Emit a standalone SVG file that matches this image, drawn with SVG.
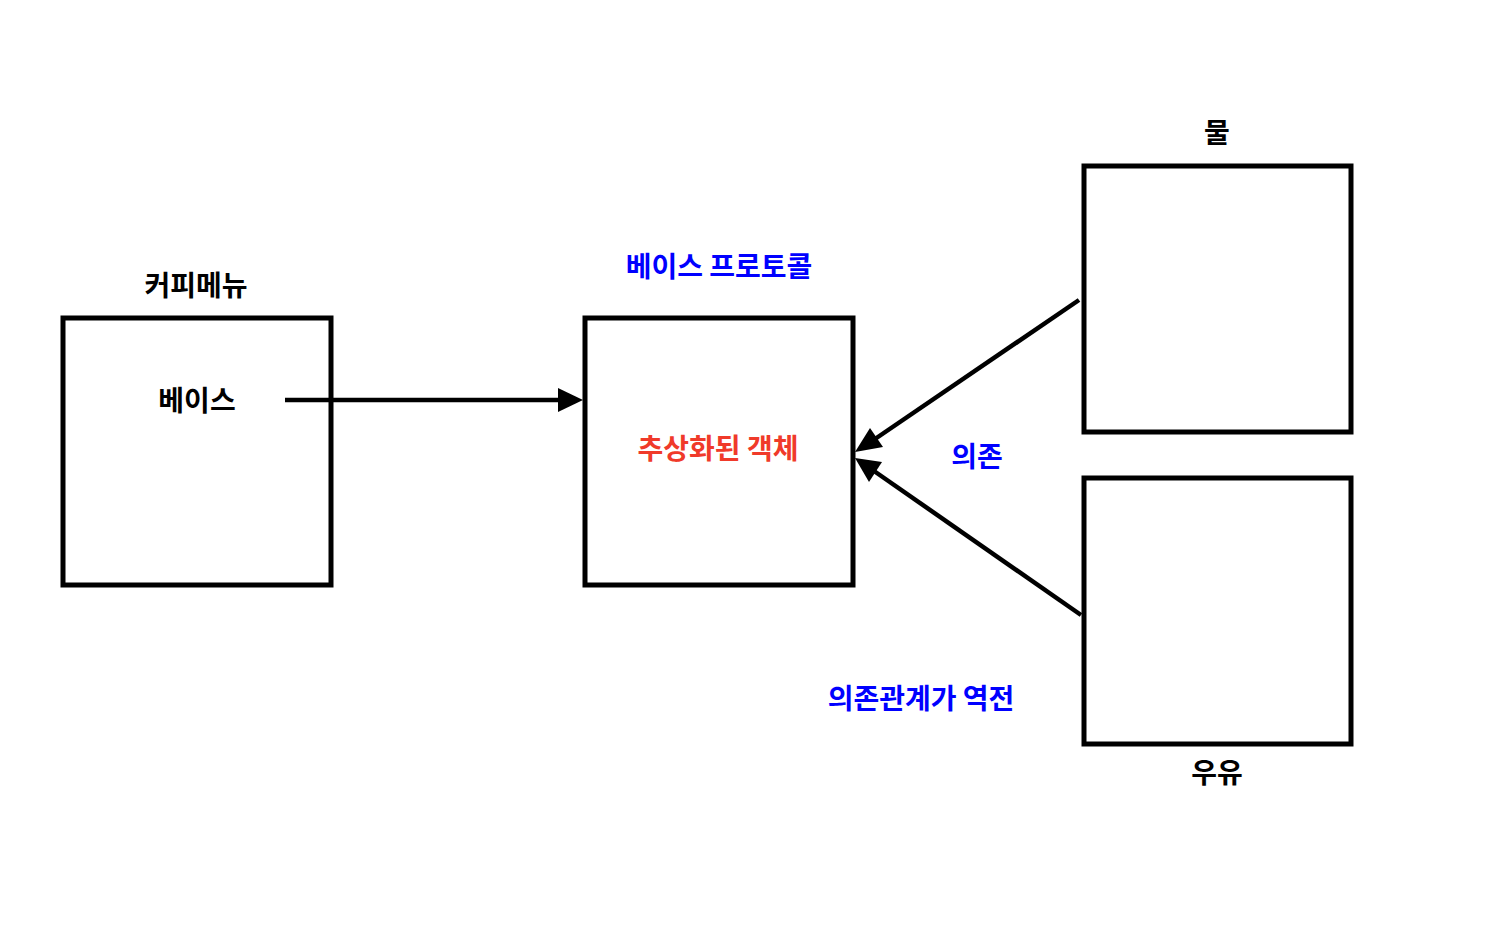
<svg xmlns="http://www.w3.org/2000/svg" width="1510" height="938" viewBox="0 0 1510 938">
<style>
.box{fill:#fff;stroke:#000;stroke-width:5}
.t{font-family:"Noto Sans CJK KR","Noto Sans",sans-serif;font-weight:bold;font-size:28px;text-anchor:middle}
.blk{fill:#000}.blue{fill:#0000ff}.red{fill:#f03a2a}
.c{stroke:#000;stroke-width:4.5;fill:none}
</style>
<rect width="1510" height="938" fill="#fff"/>
<g id="coffee">
<rect class="box" x="63" y="318" width="268" height="267"/>
<text class="t blk" x="196" y="296">커피메뉴</text>
<text class="t blk" x="197" y="411">베이스</text>
</g>
<g id="protocol">
<rect class="box" x="585" y="318" width="268" height="267"/>
<text class="t blue" x="719" y="277">베이스 프로토콜</text>
<text class="t red" x="718" y="459">추상화된 객체</text>
</g>
<g id="water">
<rect class="box" x="1084" y="166" width="267" height="266"/>
<text class="t blk" x="1217" y="143">물</text>
</g>
<g id="milk">
<rect class="box" x="1084" y="478" width="267" height="266"/>
<text class="t blk" x="1217" y="783">우유</text>
</g>
<g id="labels">
<text class="t blue" x="977" y="467">의존</text>
<text class="t blue" x="921" y="709">의존관계가 역전</text>
</g>
<g id="connectors">
<line class="c" x1="285" y1="400" x2="560" y2="400"/>
<path d="M583,400 L558,388 L558,412 z" fill="#000"/>
<line class="c" x1="1079" y1="300" x2="875" y2="439"/>
<path d="M855,452 L870,428 L883,447 z" fill="#000"/>
<line class="c" x1="1081" y1="615" x2="874" y2="471"/>
<path d="M855,458 L882,462 L869,482 z" fill="#000"/>
</g>
</svg>
